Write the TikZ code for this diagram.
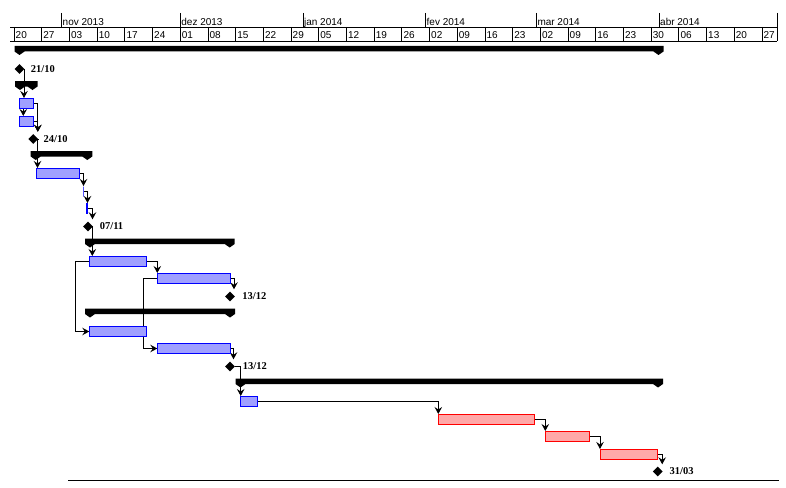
\documentclass[tikz,border=0pt]{standalone}
\usepackage{fontspec}
\setmainfont{Liberation Serif}
\newfontfamily\hdrfont{Liberation Sans}
\usepackage{xcolor}
\usepackage{tikz}
\usetikzlibrary{positioning,shapes.geometric,arrows.meta,backgrounds}
\definecolor{ink}{HTML}{000000}
\definecolor{bluefill}{HTML}{A0A0FF}
\definecolor{blueline}{HTML}{0000FF}
\definecolor{redfill}{HTML}{FFA8A8}
\definecolor{redline}{HTML}{FF0000}
\tikzset{
  grid/.style={draw=ink, line width=0.8pt},
  task/.style={rectangle, draw=blueline, fill=bluefill, line width=1pt, minimum height=10pt, inner sep=0pt, anchor=west},
  crit/.style={task, draw=redline, fill=redfill},
  ms/.style={diamond, fill=ink, minimum width=10pt, minimum height=10pt, inner sep=0pt},
  mslab/.style={text=ink, font=\bfseries\fontsize{10.5}{12}\selectfont, inner sep=0pt},
  hdr/.style={text=ink, font=\hdrfont\fontsize{10}{12}\selectfont, inner sep=0pt, anchor=base west},
  link/.style={draw=ink, line width=1pt, -{Stealth[length=7pt,width=7.5pt,inset=2.5pt]}},
  sumfill/.style={fill=ink},
}
\newcommand{\sumbar}[3]{%
  \fill[sumfill] ({#1-5},{#3-5.5}) -- ({#2+5},{#3-5.5}) -- ({#2+5},#3) -- (#2,{#3+3.5}) -- ({#2-5},#3) -- ({#1+5},#3) -- (#1,{#3+3.5}) -- ({#1-5},#3) -- cycle;}

\begin{document}
\begin{tikzpicture}[x=1pt,y=-1pt]
  \useasboundingbox (0,0) rectangle (786,487);
  \draw[grid] (10,27) -- (777,27) (10,41) -- (777,41) (777,13) -- (777,41);
  \foreach \x/\m [count=\i] in {61.5/nov 2013,180.2/dez 2013,302.9/jan 2014,425.5/fev 2014,536.3/mar 2014,659/abr 2014}{
    \draw[grid] (\x,13) -- (\x,27);
    \node[hdr] (mon\i) at ({\x+1},25.5) {\m};
  }
  \foreach \w [count=\k from 0] in {20,27,03,10,17,24,01,08,15,22,29,05,12,19,26,02,09,16,23,02,09,16,23,30,06,13,20,27}{
    \draw[grid] ({14+27.7*\k},27) -- ({14+27.7*\k},41);
    \node[hdr] (wk\k) at ({15.5+27.7*\k},38.5) {\w};
  }

  \sumbar{19.5}{658.5}{51.5}
  \sumbar{20}{32.5}{86.5}
  \sumbar{35.7}{87.3}{156.5}
  \sumbar{90}{229.7}{244}
  \sumbar{90}{230}{314}
  \sumbar{240.5}{658}{384}

  \node[ms] (m1) at (19.5,69) {};
  \node[mslab, right=6pt of m1] (l1) {21/10};
  \node[task, minimum width=13.4pt] (t1) at (19.3,103.5) {};
  \node[task, minimum width=13.4pt] (t2) at (19.3,121.5) {};
  \node[ms] (m2) at (33.3,139) {};
  \node[mslab, right=5pt of m2] (l2) {24/10};
  \node[task, minimum width=43pt] (t3) at (35.5,173.5) {};
  \node[task, minimum width=0pt] (t4) at (82.5,191.5) {};
  \node[task, minimum width=1.2pt] (t5) at (85.5,208.5) {};
  \node[ms] (m3) at (88,226.5) {};
  \node[mslab, right=6.5pt of m3] (l3) {07/11};
  \node[task, minimum width=56.4pt] (t6) at (89.3,261.5) {};
  \node[task, minimum width=72.4pt] (t7) at (157.3,278.5) {};
  \node[ms] (m4) at (230,296.5) {};
  \node[mslab, right=7pt of m4] (l4) {13/12};
  \node[task, minimum width=56.4pt] (t8) at (89.3,331.5) {};
  \node[task, minimum width=72.4pt] (t9) at (157.3,348.5) {};
  \node[ms] (m5) at (230,366.5) {};
  \node[mslab, right=7.5pt of m5] (l5) {13/12};
  \node[task, minimum width=16.7pt] (t10) at (240,401.5) {};
  \node[crit, minimum width=96pt] (t11) at (438.3,419.5) {};
  \node[crit, minimum width=44pt] (t12) at (545.3,436.5) {};
  \node[crit, minimum width=56.7pt] (t13) at (600,454.5) {};
  \node[ms] (m6) at (657.7,471.5) {};
  \node[mslab, right=6.5pt of m6] (l6) {31/03};

  \begin{scope}[on background layer]
    \draw[link] (m1.east) -| ([xshift=4.7pt]t1.north west);
    \draw[link] ([xshift=4pt]t1.south west) -- ([xshift=4pt]t2.north west);
    \draw[link] (t1.east) -| ([xshift=4.5pt,yshift=2pt]m2.north);
    \draw[link] (t2.east) -| ([xshift=4.5pt,yshift=2pt]m2.north);
    \draw[link] (m2.east) -| ([xshift=2pt]t3.north west);
    \draw[link] (t3.east) -| ([xshift=1pt]t4.north west);
    \draw[link] (t4.east) -| ([xshift=2pt]t5.north west);
    \draw[link] (t5.east) -| ([xshift=4.5pt,yshift=2pt]m3.north);
    \draw[link] (m3.east) -| ([xshift=3pt]t6.north west);
    \draw[link] (t6.east) -| (t7.north west);
    \draw[link] (t6.west) -- ++(-14pt,0) |- (t8.west);
    \draw[link] (t7.west) -- ++(-14pt,0) |- (t9.west);
    \draw[link] (t7.east) -| ([xshift=4pt,yshift=2pt]m4.north);
    \draw[link] (t9.east) -| ([xshift=3.5pt,yshift=2pt]m5.north);
    \draw[link] (m5.east) -| ([xshift=0.7pt]t10.north west);
    \draw[link] (t10.east) -| (t11.north west);
    \draw[link] (t11.east) -| (t12.north west);
    \draw[link] (t12.east) -| (t13.north west);
    \draw[link] (t13.east) -| ([xshift=4.5pt,yshift=2pt]m6.north);
  \end{scope}

  \draw[grid] (68,480) -- (779,480);
\end{tikzpicture}
\end{document}
